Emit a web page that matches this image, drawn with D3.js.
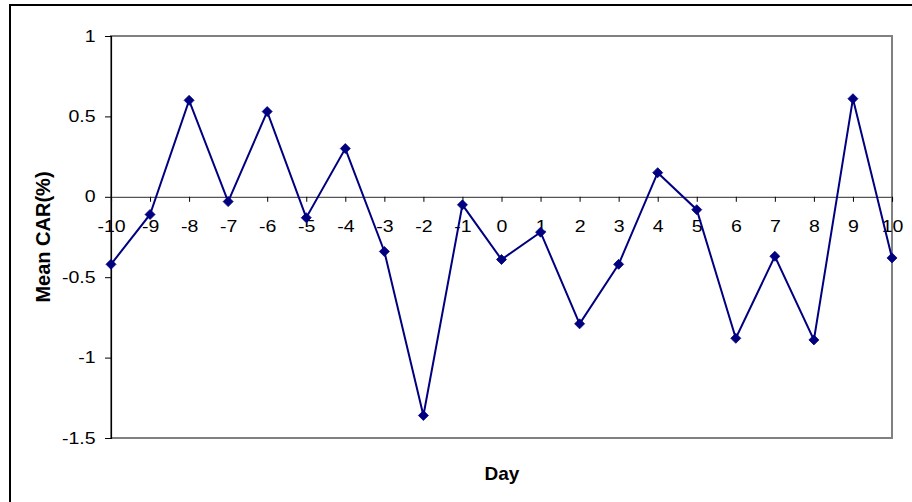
<!DOCTYPE html>
<html>
<head>
<meta charset="utf-8">
<script src="https://cdn.jsdelivr.net/npm/d3@7"></script>
<style>
  html, body { margin: 0; padding: 0; background: #fff; }
  svg { display: block; }
  text { font-family: "Liberation Sans", Arial, sans-serif; }
</style>
</head>
<body>
<script>
// Event-window days and mean cumulative abnormal return (%)
const days = [-10, -9, -8, -7, -6, -5, -4, -3, -2, -1, 0, 1, 2, 3, 4, 5, 6, 7, 8, 9, 10];
const meanCAR = [-0.42, -0.11, 0.60, -0.03, 0.53, -0.13, 0.30, -0.34, -1.36, -0.05,
                 -0.39, -0.22, -0.79, -0.42, 0.15, -0.08, -0.88, -0.37, -0.89, 0.61, -0.38];
const yTicks = [1, 0.5, 0, -0.5, -1, -1.5];
const xLabel = "Day";
const yLabel = "Mean CAR(%)";

const W = 912, H = 502;
const plot = { left: 111, right: 892, top: 36, bottom: 438 };
const stretch = 1.22;   // wide tick-label glyphs

const svg = d3.select("body").append("svg").attr("width", W).attr("height", H);

// Outer chart frame (runs off the right and bottom edges)
svg.append("rect")
  .attr("x", 10).attr("y", 5).attr("width", 920).attr("height", 520)
  .attr("fill", "#fff").attr("stroke", "#000").attr("stroke-width", 2);

const x = d3.scaleLinear().domain([-10, 10]).range([plot.left, plot.right]);
const y = d3.scaleLinear().domain([-1.5, 1]).range([plot.bottom, plot.top]);

// Plot area border
svg.append("rect")
  .attr("x", plot.left).attr("y", plot.top)
  .attr("width", plot.right - plot.left).attr("height", plot.bottom - plot.top)
  .attr("fill", "none").attr("stroke", "#808080").attr("stroke-width", 2);

// Y axis
const yAxis = d3.axisLeft(y).tickValues(yTicks).tickSize(6)
  .tickFormat(d => String(d));
const gy = svg.append("g").attr("transform", `translate(${plot.left},0)`).call(yAxis);
gy.select(".domain").attr("stroke", "#000").attr("stroke-width", 1.2);
gy.selectAll(".tick line").attr("stroke", "#000");
gy.selectAll(".tick text")
  .attr("x", -15.5 / stretch)
  .attr("transform", `scale(${stretch},1)`)
  .attr("font-size", 16).attr("fill", "#000")
  .style("font-family", "'Liberation Sans', Arial, sans-serif");

// X axis crossing at zero
const xAxis = d3.axisBottom(x).tickValues(days).tickSize(5)
  .tickFormat(d => String(d));
const gx = svg.append("g").attr("transform", `translate(0,${y(0)})`).call(xAxis);
gx.select(".domain").attr("stroke", "#555").attr("stroke-width", 1.2);
gx.selectAll(".tick line").attr("stroke", "#000");
gx.selectAll(".tick text")
  .attr("y", 35).attr("dy", null)
  .attr("transform", `scale(${stretch},1)`)
  .attr("font-size", 16).attr("fill", "#000")
  .style("font-family", "'Liberation Sans', Arial, sans-serif");

// Series line
const pts = days.map((d, i) => [d, meanCAR[i]]);
svg.append("path")
  .datum(pts)
  .attr("fill", "none").attr("stroke", "#000080").attr("stroke-width", 2)
  .attr("d", d3.line().x(d => x(d[0])).y(d => y(d[1])));

// Diamond markers
svg.append("g").selectAll("path")
  .data(pts).join("path")
  .attr("transform", d => `translate(${x(d[0])},${y(d[1])})`)
  .attr("d", "M0,-5L5,0L0,5L-5,0Z")
  .attr("fill", "#000080").attr("stroke", "#000080").attr("stroke-width", 0.8);

// Axis titles
svg.append("text")
  .attr("x", 502).attr("y", 480)
  .attr("text-anchor", "middle").attr("font-size", 19).attr("font-weight", "bold")
  .text(xLabel);

svg.append("text")
  .attr("transform", "translate(50,237) rotate(-90)")
  .attr("text-anchor", "middle").attr("font-size", 20).attr("font-weight", "bold")
  .text(yLabel);
</script>
</body>
</html>
